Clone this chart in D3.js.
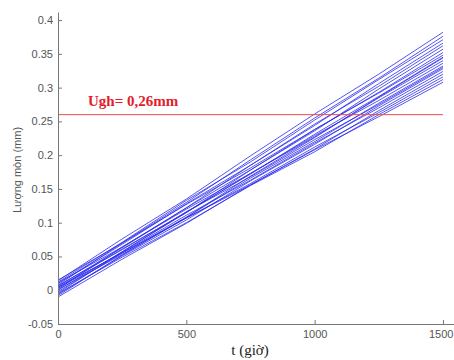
<!DOCTYPE html>
<html>
<head>
<meta charset="utf-8">
<script src="https://cdn.jsdelivr.net/npm/d3@7"></script>
<style>
  body { margin: 0; background: #fff; }
  svg { display: block; }
</style>
</head>
<body>
<svg id="canvas" width="454" height="360"></svg>
<script>
// time points (giờ)
let times = [0, 250, 500, 750, 1000, 1250, 1500]

// simulated wear paths (mm)
let path01 = [0.014, 0.076, 0.135, 0.199, 0.261, 0.320, 0.382]
let path02 = [0.008, 0.070, 0.130, 0.193, 0.255, 0.314, 0.376]
let path03 = [0.012, 0.071, 0.133, 0.190, 0.252, 0.312, 0.371]
let path04 = [0.002, 0.064, 0.122, 0.185, 0.244, 0.306, 0.366]
let path05 = [0.010, 0.068, 0.128, 0.185, 0.246, 0.302, 0.362]
let path06 = [-0.004, 0.057, 0.115, 0.178, 0.236, 0.298, 0.357]
let path07 = [0.006, 0.063, 0.122, 0.178, 0.238, 0.293, 0.352]
let path08 = [0.015, 0.070, 0.127, 0.181, 0.238, 0.292, 0.348]
let path09 = [0.000, 0.057, 0.116, 0.172, 0.231, 0.287, 0.345]
let path10 = [-0.008, 0.052, 0.108, 0.169, 0.226, 0.286, 0.344]
let path11 = [0.004, 0.061, 0.115, 0.173, 0.227, 0.285, 0.340]
let path12 = [0.011, 0.064, 0.120, 0.173, 0.229, 0.281, 0.336]
let path13 = [-0.002, 0.055, 0.108, 0.166, 0.220, 0.277, 0.332]
let path14 = [0.007, 0.060, 0.116, 0.168, 0.223, 0.275, 0.330]
let path15 = [-0.006, 0.051, 0.104, 0.162, 0.216, 0.273, 0.328]
let path16 = [0.003, 0.056, 0.111, 0.163, 0.218, 0.270, 0.324]
let path17 = [-0.010, 0.046, 0.099, 0.156, 0.209, 0.266, 0.320]
let path18 = [0.001, 0.053, 0.107, 0.158, 0.212, 0.263, 0.316]
let path19 = [-0.005, 0.049, 0.100, 0.155, 0.205, 0.260, 0.312]
let path20 = [0.005, 0.055, 0.107, 0.156, 0.208, 0.257, 0.308]

let paths = [path01, path02, path03, path04, path05, path06, path07, path08, path09, path10,
             path11, path12, path13, path14, path15, path16, path17, path18, path19, path20]

// limit line
let limit = 0.26
let limit_label = 'Ugh= 0,26mm'

let x_ticks = [0, 500, 1000, 1500]
let y_ticks = [-0.05, 0, 0.05, 0.1, 0.15, 0.2, 0.25, 0.3, 0.35, 0.4]

let canvas = d3.select('#canvas')

let x = d3.scaleLinear().domain([0, 1543]).range([58, 454])
let y = d3.scaleLinear().domain([-0.05, 0.412]).range([324, 12])

// paths
let line = d3.line()
    .x((d, i) => x(times[i]))
    .y((d) => y(d))

canvas.append('g')
    .selectAll('path')
    .data(paths)
    .enter()
        .append('path')
        .attr('d', line)
        .attr('fill', 'none')
        .attr('stroke', '#2b2bee')
        .attr('stroke-width', 0.95)
        .attr('stroke-opacity', 0.85)

// limit line
canvas.append('line')
    .attr('x1', x(0))
    .attr('x2', x(1500))
    .attr('y1', y(limit))
    .attr('y2', y(limit))
    .attr('stroke', '#f04a4a')
    .attr('stroke-width', 1)

canvas.append('text')
    .attr('x', 88)
    .attr('y', y(limit) - 9)
    .attr('fill', '#e3202a')
    .attr('font-family', '"Liberation Serif", "Times New Roman", serif')
    .attr('font-weight', 'bold')
    .attr('font-size', 15)
    .text(limit_label)

// axes
let xAxis = d3.axisBottom(x)
    .tickValues(x_ticks)
    .tickSizeInner(-4)
    .tickSizeOuter(0)
    .tickPadding(6)
    .tickFormat(d3.format('d'))

let yAxis = d3.axisLeft(y)
    .tickValues(y_ticks)
    .tickSizeInner(-4)
    .tickSizeOuter(0)
    .tickPadding(5)
    .tickFormat((d) => String(+d.toFixed(2)))

let gx = canvas.append('g')
    .attr('transform', 'translate(0,324)')
    .call(xAxis)

let gy = canvas.append('g')
    .attr('transform', 'translate(58,0)')
    .call(yAxis)

canvas.selectAll('.domain').attr('stroke', '#777')
canvas.selectAll('.tick line').attr('stroke', '#777')
canvas.selectAll('.tick text')
    .attr('fill', '#555')
    .attr('font-family', '"Liberation Sans", Arial, sans-serif')
    .attr('font-size', 11)

// last x label sits against the right edge
gx.selectAll('.tick text')
    .filter((d) => d === 1500)
    .attr('text-anchor', 'end')
    .attr('x', 10)

// axis labels
canvas.append('text')
    .attr('x', 250)
    .attr('y', 355)
    .attr('text-anchor', 'middle')
    .attr('fill', '#222')
    .attr('font-family', '"Liberation Serif", "Times New Roman", serif')
    .attr('font-size', 15)
    .text('t (giờ)')

canvas.append('text')
    .attr('transform', 'translate(21,170) rotate(-90)')
    .attr('text-anchor', 'middle')
    .attr('fill', '#555')
    .attr('font-family', '"Liberation Sans", Arial, sans-serif')
    .attr('font-size', 11)
    .text('Lượng mòn (mm)')
</script>
</body>
</html>
